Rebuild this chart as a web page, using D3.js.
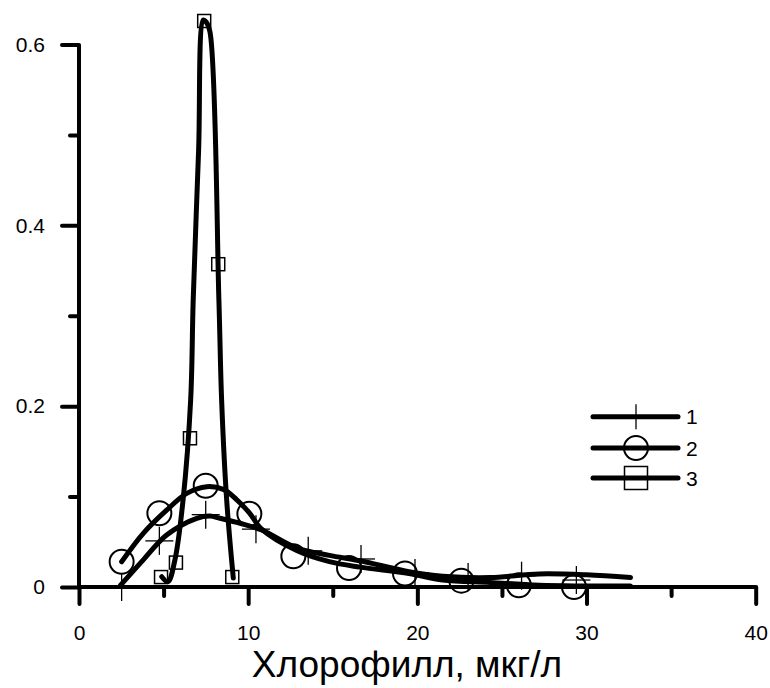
<!DOCTYPE html>
<html>
<head>
<meta charset="utf-8">
<script src="https://cdn.jsdelivr.net/npm/d3@7"></script>
<style>
  body { margin: 0; background: #fff; }
  text { font-family: "Liberation Sans", Arial, sans-serif; fill: #000; }
</style>
</head>
<body>
<svg></svg>
<script>
//measured points (markers) for each series
let s1Points = [[2.52,0],[4.75,0.051],[7.49,0.080],[10.46,0.064],[13.55,0.040],[16.67,0.031],[19.86,0.0155],[23.0,0.011],[26.16,0.0125],[29.4,0.0077]];
let s2Points = [[2.52,0.028],[4.75,0.0815],[7.49,0.112],[10.07,0.081],[12.67,0.034],[15.96,0.021],[19.27,0.015],[22.6,0.007],[26.0,0.002],[29.26,0.0]];
let s3Points = [[4.85,0.011],[5.73,0.027],[6.56,0.1645],[7.4,0.626],[8.23,0.357],[9.06,0.011]];

//smoothed fit curves
let s1Curve = [[2.46,0.002],[3.8,0.030],[5.18,0.0575],[6.96,0.076],[7.74,0.0785],[8.33,0.076],[9.52,0.0705],[10.8,0.063],[12.9,0.043],[14.8,0.035],[16.6,0.029],[19.5,0.017],[21.5,0.012],[24.3,0.0105],[27.2,0.0145],[30,0.0135],[32.6,0.0105]];
let s2Curve = [[2.52,0.028],[3.8,0.0594],[5.18,0.085],[6.37,0.1036],[7.55,0.111],[8.53,0.108],[9.3,0.097],[10.07,0.082],[10.8,0.064],[12.9,0.040],[14.8,0.028],[16.6,0.022],[19.5,0.015],[21.5,0.0077],[24.3,0.005],[27.2,0.002],[32.6,0.001]];
let s3Curve = [[4.89,0.0114],[5.26,0.0059],[5.67,0.030],[6.15,0.096],[6.6,0.207],[6.75,0.317],[7.07,0.483],[7.35,0.627],[7.51,0.625],[7.74,0.614],[8.27,0.317],[8.43,0.207],[8.73,0.096],[9.12,0.010]];

//ticks and labels
let xTicks = [0, 10, 20, 30, 40];
let xMinor = [5, 15, 25, 35];
let yTicks = [0, 0.2, 0.4, 0.6];
let yMinor = [0.1, 0.3, 0.5];
let legendLabels = ['1', '2', '3'];
let xTitle = 'Хлорофилл, мкг/л';

let svg = d3.select('svg');
let width = 770;
let height = 688;

svg.attr('width', width).attr('height', height);

let xScale = d3.scaleLinear().domain([0, 40]).range([79, 755.7]);
let yScale = d3.scaleLinear().domain([0, 0.6]).range([587, 44.5]);

//axes: major + minor ticks, domain drawn by hand so it can be thick
let drawAxes = () => {
    let xMaj = svg.append('g')
        .attr('transform', 'translate(0,' + yScale(0) + ')')
        .call(d3.axisBottom(xScale).tickValues(xTicks).tickSize(17).tickPadding(21).tickFormat(d3.format('d')));
    let xMin = svg.append('g')
        .attr('transform', 'translate(0,' + yScale(0) + ')')
        .call(d3.axisBottom(xScale).tickValues(xMinor).tickSize(9).tickFormat(''));
    let yMaj = svg.append('g')
        .attr('transform', 'translate(' + xScale(0) + ',0)')
        .call(d3.axisLeft(yScale).tickValues(yTicks).tickSize(17).tickPadding(17).tickFormat(d => d === 0 ? '0' : d3.format('.1f')(d)));
    let yMin = svg.append('g')
        .attr('transform', 'translate(' + xScale(0) + ',0)')
        .call(d3.axisLeft(yScale).tickValues(yMinor).tickSize(9).tickFormat(''));

    [xMaj, xMin, yMaj, yMin].forEach(g => {
        g.select('.domain').remove();
        g.selectAll('line').attr('stroke', '#000').attr('stroke-width', 4).attr('stroke-linecap', 'round');
        g.selectAll('text').style('font-size', '21px').attr('fill', '#000');
    });

    svg.append('line')
        .attr('x1', xScale(0)).attr('x2', xScale(40))
        .attr('y1', yScale(0)).attr('y2', yScale(0))
        .attr('stroke', '#000').attr('stroke-width', 4);
    svg.append('line')
        .attr('x1', xScale(0)).attr('x2', xScale(0))
        .attr('y1', yScale(0)).attr('y2', yScale(0.6))
        .attr('stroke', '#000').attr('stroke-width', 4);

    svg.append('text')
        .attr('x', 407).attr('y', 677)
        .attr('text-anchor', 'middle')
        .style('font-size', '37px')
        .text(xTitle);
};

let line = d3.line()
    .x(d => xScale(d[0]))
    .y(d => yScale(d[1]))
    .curve(d3.curveCatmullRom.alpha(0.5));

//marker shapes
let drawCross = (g, x, y, s) => {
    g.append('line').attr('x1', x - s / 2).attr('x2', x + s / 2).attr('y1', y).attr('y2', y);
    g.append('line').attr('x1', x).attr('x2', x).attr('y1', y - s / 2).attr('y2', y + s / 2);
};
let drawCircle = (g, x, y, r) => {
    g.append('circle').attr('cx', x).attr('cy', y).attr('r', r);
};
let drawSquare = (g, x, y, s) => {
    g.append('rect').attr('x', x - s / 2).attr('y', y - s / 2).attr('width', s).attr('height', s);
};

let drawSeries = () => {
    [s1Curve, s2Curve, s3Curve].forEach(c => {
        svg.append('path')
            .attr('d', line(c))
            .attr('fill', 'none')
            .attr('stroke', '#000')
            .attr('stroke-width', 5)
            .attr('stroke-linecap', 'round')
            .attr('stroke-linejoin', 'round');
    });

    let m1 = svg.append('g').attr('stroke', '#000').attr('stroke-width', 1.3);
    s1Points.forEach(d => drawCross(m1, xScale(d[0]), yScale(d[1]), 28));

    let m2 = svg.append('g').attr('stroke', '#000').attr('stroke-width', 2).attr('fill', 'none');
    s2Points.forEach(d => drawCircle(m2, xScale(d[0]), yScale(d[1]), 12));

    let m3 = svg.append('g').attr('stroke', '#000').attr('stroke-width', 1.5).attr('fill', 'none');
    s3Points.forEach(d => drawSquare(m3, xScale(d[0]), yScale(d[1]), 13));
};

let drawLegend = () => {
    let rows = [416.7, 448, 478];
    let lg = svg.append('g');
    legendLabels.forEach((lab, i) => {
        let y = rows[i];
        lg.append('line')
            .attr('x1', 593).attr('x2', 678).attr('y1', y).attr('y2', y)
            .attr('stroke', '#000').attr('stroke-width', 5).attr('stroke-linecap', 'round');
        let m = lg.append('g').attr('stroke', '#000').attr('fill', 'none');
        if (i === 0) { m.attr('stroke-width', 1.3); drawCross(m, 636, y, 25); }
        if (i === 1) { m.attr('stroke-width', 2); drawCircle(m, 636, y, 12); }
        if (i === 2) { m.attr('stroke-width', 1.5); drawSquare(m, 636, y, 23); }
        lg.append('text')
            .attr('x', 686).attr('y', y).attr('dy', '0.36em')
            .style('font-size', '21px')
            .text(lab);
    });
};

drawAxes();
drawSeries();
drawLegend();
</script>
</body>
</html>
